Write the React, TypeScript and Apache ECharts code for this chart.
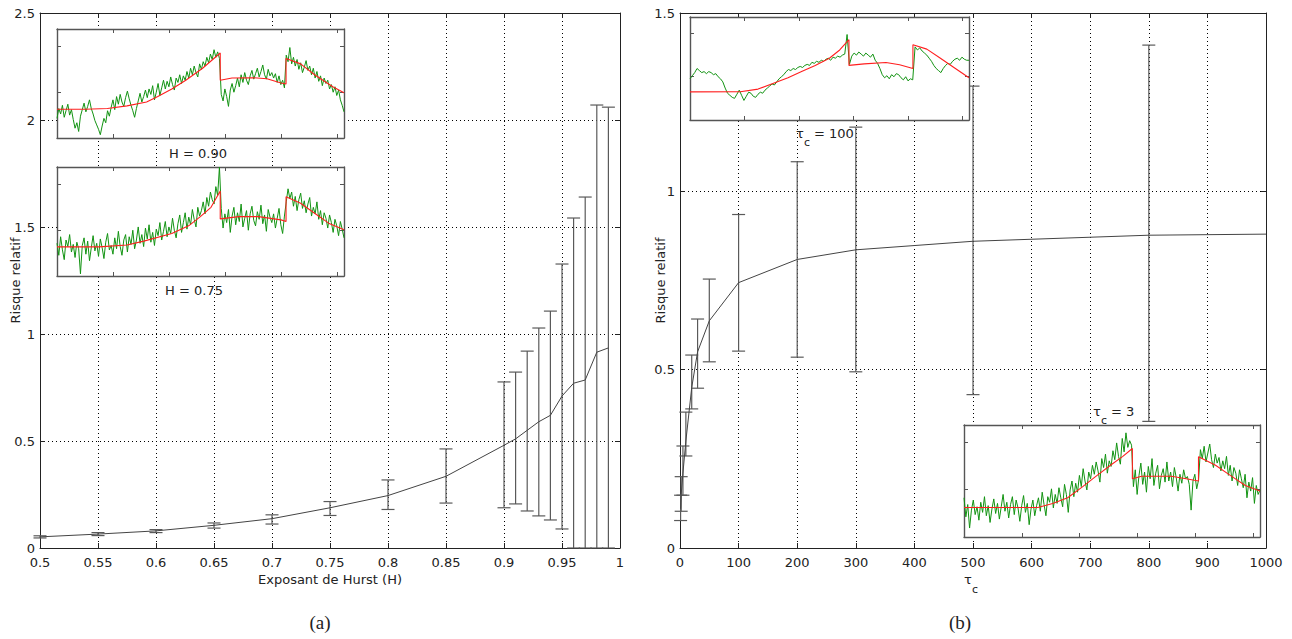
import React, { useEffect, useRef } from "react";
import * as echarts from "echarts";

// ---------- Panel (a): relative risk vs Hurst exponent ----------
const hurstH = [0.5, 0.55, 0.6, 0.65, 0.7, 0.75, 0.8, 0.85, 0.9, 0.91, 0.92, 0.93, 0.94, 0.95, 0.96, 0.97, 0.98, 0.99];
const hurstMean = [0.052, 0.065, 0.08, 0.106, 0.137, 0.188, 0.245, 0.335, 0.48, 0.51, 0.55, 0.59, 0.62, 0.71, 0.77, 0.785, 0.915, 0.935];
const hurstLow = [0.047, 0.058, 0.072, 0.093, 0.112, 0.152, 0.18, 0.21, 0.188, 0.206, 0.173, 0.15, 0.131, 0.089, 0, 0, 0, 0];
const hurstHigh = [0.057, 0.072, 0.086, 0.117, 0.155, 0.217, 0.318, 0.463, 0.776, 0.822, 0.92, 1.028, 1.107, 1.327, 1.542, 1.64, 2.07, 2.06];

// ---------- Panel (b): relative risk vs tau_c ----------
const tauC = [1, 2, 5, 10, 20, 30, 50, 100, 200, 300, 500, 800, 1000];
const tauMean = [0.11, 0.15, 0.21, 0.3, 0.45, 0.55, 0.637, 0.744, 0.809, 0.836, 0.86, 0.877, 0.88];
const tauLow = [0.077, 0.103, 0.148, 0.258, 0.39, 0.448, 0.522, 0.552, 0.535, 0.494, 0.43, 0.355, null];
const tauHigh = [0.148, 0.2, 0.286, 0.381, 0.541, 0.642, 0.754, 0.935, 1.083, 1.18, 1.295, 1.41, null];

// ---------- Insets (arbitrary units: 0 = bottom of box, 100 = top) ----------
const greenH090 = [
  18, 27, 22, 30, 19, 25, 31, 21, 26, 17,
  9, 14, 6, 20, 26, 32, 24, 29, 35, 27,
  22, 16, 12, 8, 3, 11, 18, 14, 25, 20,
  28, 35, 26, 38, 31, 40, 33, 29, 37, 43,
  36, 30, 25, 19, 27, 34, 41, 33, 38, 44,
  37, 45, 40, 48, 35, 42, 50, 39, 46, 53,
  45, 52, 47, 56, 49, 44, 55, 51, 58, 50,
  57, 53, 61, 55, 64, 58, 66, 60, 56, 68,
  63, 70, 66, 74, 69, 77, 72, 81, 74, 79,
  73, 40, 34, 45, 38, 29, 44, 50, 42, 48,
  55, 47, 58, 51, 60, 53, 49, 57, 62, 54,
  59, 64, 56, 61, 67, 58, 54, 63, 57, 60,
  55, 59, 51, 57, 49, 53, 46,
  76, 70, 83, 68, 74, 66, 72, 63, 69, 60, 65, 71, 62,
  66, 58, 64, 55, 61, 52, 57, 48, 55, 50,
  53, 45, 49, 42, 47, 39, 44, 35, 30, 24,
];
const redH090: [number, number][] = [
  [0, 26.4], [100, 26.4], [180, 27], [250, 29.5], [320, 33], [360, 38], [410, 45], [460, 53], [520, 64], [583, 78],
  [583, 53], [625, 55], [700, 55.3], [750, 54.4], [800, 50.5], [818, 49.5],
  [818, 73], [870, 68], [920, 58], [985, 47], [1025, 41.6],
];

const greenH075 = [
  30, 19, 36, 24, 15, 33, 27, 38, 22, 29,
  17, 31, 25, 2, 28, 35, 20, 32, 14, 26,
  37, 23, 30, 18, 34, 26, 16, 31, 39, 24,
  28, 20, 35, 25, 41, 27, 19, 33, 38, 22,
  36, 29, 42, 25, 33, 45, 30, 38, 27, 44,
  34, 47, 31, 40, 28, 43, 37, 49, 33, 41,
  50, 36, 45, 39, 53, 42, 35, 48, 56, 40,
  49, 58, 43, 54, 47, 61, 52, 45, 63, 55,
  60, 68, 57, 72, 64, 77, 70, 66, 82, 74,
  100, 62, 44, 57, 49, 61, 40, 55, 63, 47,
  58, 50, 66, 45, 53, 60, 42, 57, 64, 51,
  46, 59, 52, 65, 48, 56, 41, 61, 54, 49,
  57, 44, 53, 62, 47, 39, 55,
  68, 80, 71, 77, 64, 73, 60, 70, 76, 62, 69, 58, 66,
  72, 55, 63, 57, 68, 52, 60, 47, 58, 53,
  44, 56, 49, 40, 52, 46, 37, 50, 43, 35,
];
const redH075: [number, number][] = [
  [0, 26.7], [150, 26.7], [250, 28.5], [310, 32], [410, 39], [470, 46], [512, 54.5], [550, 63], [583, 78],
  [583, 52.4], [650, 54.5], [720, 54.5], [800, 51.5], [818, 50],
  [818, 72.7], [870, 66.7], [920, 57.6], [970, 48.5], [1025, 42.4],
];

const greenTau100 = [
  40, 43, 46, 50, 48, 46, 47, 45, 47, 46,
  44, 45, 42, 40, 37, 31, 26, 24, 22, 21,
  25, 29, 24, 19, 23, 27, 26, 23, 22, 25,
  27, 26, 29, 31, 33, 35, 34, 37, 40, 42,
  44, 47, 49, 48, 50, 49, 51, 52, 51, 53,
  54, 53, 56, 55, 57, 56, 58, 57, 59, 60,
  58, 61, 60, 62, 61, 63, 64, 83, 54, 62,
  65, 63, 66, 64, 62, 65, 63, 61, 64, 58,
  55, 50, 44, 41, 43, 40, 44, 42, 45, 44,
  41, 39, 42, 38, 40, 39,
  71, 68, 70, 67,
  65, 63, 60, 57, 53, 50, 48, 46, 50, 53,
  55, 54, 57, 59, 60, 58, 61, 59, 58, 58,
];
const redTau100: [number, number][] = [
  [0, 27.3], [185, 27.5], [250, 30], [307, 35.7], [360, 41], [410, 47], [460, 53], [512, 60], [550, 68], [584, 78],
  [584, 53], [640, 54.5], [720, 55.8], [770, 53.6], [819, 50],
  [819, 73], [870, 68.8], [920, 60], [975, 50], [1025, 41],
];

const greenTau3 = [
  35, 18, 29, 8, 24, 33, 20, 27, 15, 31,
  22, 36, 19, 28, 13, 25, 34, 21, 30, 16,
  27, 38, 23, 31, 17, 29, 36, 20, 33, 26,
  14, 28, 37, 22, 30, 11, 25, 33, 19, 28,
  35, 23, 40, 29, 19, 36, 31, 43, 26, 38,
  30, 44, 35, 27, 47, 38, 22, 42, 50, 36,
  48, 40, 55, 45, 61, 50, 42, 58, 52, 64,
  56, 67, 59, 49, 70, 62, 74, 57, 68, 63,
  77, 69, 84, 72, 65, 88, 76, 93, 80, 86,
  82, 45, 60, 38, 55, 66, 47, 58, 40, 63,
  52, 70, 46, 57, 64, 43, 55, 61, 49, 67,
  50, 58, 45, 62, 53, 41, 56, 48, 60, 52,
  54, 47, 24, 50, 56, 43, 51,
  78, 70, 81, 67, 75, 83, 69, 62, 74, 66, 71, 59, 68,
  61, 72, 55, 64, 50, 62, 57, 46, 60, 52,
  44, 56, 35, 49, 41, 53, 30, 46, 38, 42,
];
const redTau3: [number, number][] = [
  [0, 26.3], [256, 26.3], [307, 29.9], [359, 35], [410, 44.8], [461, 55], [512, 65], [550, 72], [583, 79],
  [583, 52], [615, 54.3], [718, 54.3], [769, 52], [812, 50],
  [812, 71.6], [871, 64], [922, 55], [974, 46], [1025, 41],
];

const INSET_SPAN = 1025;
const FONT = "DejaVu Sans";
const AXIS_COLOR = "#222";
const TEXT_COLOR = "#222";

function mainAxes(gridIndex: number, min: number, max: number, interval: number, isX: boolean, name: string, nameGap: number, fmt?: (v: number) => string) {
  const common = {
    gridIndex, type: "value", min, max, interval,
    axisLine: { show: true, onZero: false, lineStyle: { color: AXIS_COLOR, width: 1 } },
    axisTick: { show: true, inside: true, length: 5, lineStyle: { color: AXIS_COLOR } },
    z: 1,
  };
  const primary = {
    ...common,
    position: isX ? "bottom" : "left",
    axisLabel: { show: true, margin: isX ? 8 : 5, color: TEXT_COLOR, fontSize: 13, fontFamily: FONT, formatter: fmt },
    splitLine: { show: true, lineStyle: { color: "#000", type: [1, 3], width: 1 } },
    name, nameLocation: "middle", nameGap, nameMoveOverlap: false,
    nameTextStyle: { color: TEXT_COLOR, fontSize: 13, fontFamily: FONT },
  };
  const secondary = {
    ...common,
    position: isX ? "top" : "right",
    axisLabel: { show: false },
    splitLine: { show: false },
  };
  return [primary, secondary];
}

function insetAxes(gridIndex: number, isX: boolean) {
  const common = {
    gridIndex, type: "value",
    min: 0, max: isX ? INSET_SPAN : 100, interval: isX ? 200 : 42.2,
    axisLine: { show: true, onZero: false, lineStyle: { color: "#555", width: 1.4 } },
    axisTick: { show: true, inside: true, length: 4, lineStyle: { color: "#555" } },
    axisLabel: { show: false },
    splitLine: { show: false },
    z: 6,
  };
  return [
    { ...common, position: isX ? "bottom" : "left" },
    { ...common, position: isX ? "top" : "right" },
  ];
}

const errStyle = { stroke: "#5a5a5a", lineWidth: 1.2 };
function errorRender(params: any, api: any) {
  const x = api.value(0);
  const lo = api.value(1);
  const hi = api.value(2);
  const pLo = api.coord([x, lo]);
  const pHi = api.coord([x, hi]);
  const w = 6.5;
  return {
    type: "group",
    children: [
      { type: "line", shape: { x1: pLo[0], y1: pLo[1], x2: pHi[0], y2: pHi[1] }, style: errStyle },
      { type: "line", shape: { x1: pLo[0] - w, y1: pLo[1], x2: pLo[0] + w, y2: pLo[1] }, style: errStyle },
      { type: "line", shape: { x1: pHi[0] - w, y1: pHi[1], x2: pHi[0] + w, y2: pHi[1] }, style: errStyle },
    ],
  };
}

function greenData(vals: number[]) {
  return vals.map((v, i) => [(i * INSET_SPAN) / (vals.length - 1), v]);
}

function insetSeries(axisIdx: number, green: number[], red: [number, number][]) {
  return [
    {
      type: "line", xAxisIndex: axisIdx, yAxisIndex: axisIdx, data: greenData(green),
      showSymbol: false, symbol: "none", lineStyle: { color: "#129312", width: 1 }, z: 7, silent: true,
    },
    {
      type: "line", xAxisIndex: axisIdx, yAxisIndex: axisIdx, data: red,
      showSymbol: false, symbol: "none", lineStyle: { color: "#ff1f1f", width: 1.1 }, z: 8, silent: true,
    },
  ];
}

function txt(x: number, y: number, text: string, size = 13, family = FONT, align = "center") {
  return {
    type: "text", x, y, z: 20, silent: true,
    style: { text, fill: TEXT_COLOR, font: `${size}px "${family}"`, align, verticalAlign: "middle" },
  };
}

export default function App() {
  const ref = useRef<HTMLDivElement>(null);
  useEffect(() => {
    if (!ref.current) return;
    const chart = echarts.init(ref.current, undefined, { renderer: "svg" });

    const fmtH = (v: number) => String(Math.round(v * 100) / 100);
    const fmtT = (v: number) => String(Math.round(v));
    const [ax0b, ax0t] = mainAxes(0, 0.5, 1, 0.05, true, "Exposant de Hurst (H)", 25, fmtH);
    const [ay0l, ay0r] = mainAxes(0, 0, 2.5, 0.5, false, "Risque relatif", 18);
    const [ax1b, ax1t] = mainAxes(1, 0, 1000, 100, true, "", 25, fmtT);
    const [ay1l, ay1r] = mainAxes(1, 0, 1.5, 0.5, false, "Risque relatif", 13);

    const insetGrids = [
      { left: 57, top: 29, width: 287, height: 109 },
      { left: 57, top: 167, width: 287, height: 109 },
      { left: 690, top: 17, width: 279, height: 103 },
      { left: 964, top: 425, width: 296, height: 112 },
    ].map((g) => ({ ...g, show: true, backgroundColor: "#fff", borderWidth: 0, z: 5 }));

    const xAxes: any[] = [ax0b, ax0t, ax1b, ax1t];
    const yAxes: any[] = [ay0l, ay0r, ay1l, ay1r];
    for (let g = 2; g < 6; g++) {
      xAxes.push(...insetAxes(g, true));
      yAxes.push(...insetAxes(g, false));
    }
    // inset axis indices: grid2 -> 4,5 ; grid3 -> 6,7 ; grid4 -> 8,9 ; grid5 -> 10,11

    const hurstErr = hurstH.map((h, i) => [h, hurstLow[i], hurstHigh[i]]);
    const tauErr = tauC
      .map((t, i) => [t, tauLow[i], tauHigh[i]])
      .filter((d) => d[1] !== null && d[2] !== null);

    const option: any = {
      animation: false,
      backgroundColor: "#fff",
      textStyle: { fontFamily: FONT },
      grid: [
        { left: 40, top: 13, width: 580, height: 535, show: false },
        { left: 680, top: 13, width: 586, height: 535, show: false },
        ...insetGrids,
      ],
      xAxis: xAxes,
      yAxis: yAxes,
      series: [
        {
          type: "line", xAxisIndex: 0, yAxisIndex: 0,
          data: hurstH.map((h, i) => [h, hurstMean[i]]),
          showSymbol: false, symbol: "none", lineStyle: { color: "#444", width: 1 }, z: 2,
        },
        {
          type: "custom", xAxisIndex: 0, yAxisIndex: 0, renderItem: errorRender,
          data: hurstErr, encode: { x: 0, y: [1, 2] }, z: 2,
        },
        {
          type: "line", xAxisIndex: 2, yAxisIndex: 2,
          data: tauC.map((t, i) => [t, tauMean[i]]),
          showSymbol: false, symbol: "none", lineStyle: { color: "#444", width: 1 }, z: 2,
        },
        {
          type: "custom", xAxisIndex: 2, yAxisIndex: 2, renderItem: errorRender,
          data: tauErr, encode: { x: 0, y: [1, 2] }, z: 2,
        },
        ...insetSeries(4, greenH090, redH090),
        ...insetSeries(6, greenH075, redH075),
        ...insetSeries(8, greenTau100, redTau100),
        ...insetSeries(10, greenTau3, redTau3),
      ],
      graphic: [
        txt(198, 153, "H = 0.90"),
        txt(194, 290, "H = 0.75"),
        // tau_c = 100
        txt(800, 133, "τ", 13, FONT, "center"),
        txt(807, 142, "c", 11, FONT, "center"),
        txt(814, 133, "= 100", 13, FONT, "left"),
        // tau_c = 3
        txt(1097, 411, "τ", 13, FONT, "center"),
        txt(1104, 420, "c", 11, FONT, "center"),
        txt(1111, 411, "= 3", 13, FONT, "left"),
        // x-axis name of panel (b)
        txt(968, 579, "τ", 13, FONT, "center"),
        txt(975, 589, "c", 11, FONT, "center"),
        // captions
        txt(320, 622, "(a)", 19, "Liberation Serif"),
        txt(960, 622, "(b)", 19, "Liberation Serif"),
      ],
    };

    chart.setOption(option);
    return () => chart.dispose();
  }, []);

  return (
    <div
      ref={ref}
      style={{ position: "fixed", left: 0, top: 0, width: 1292, height: 639, background: "#fff" }}
    />
  );
}
